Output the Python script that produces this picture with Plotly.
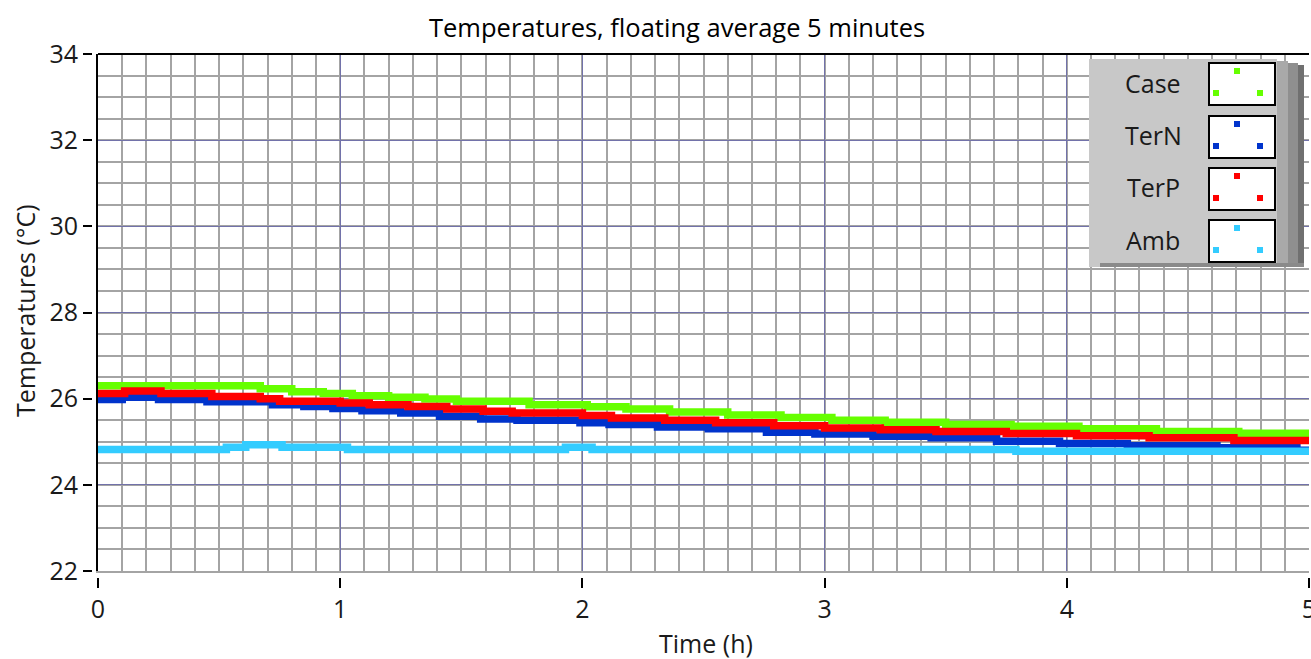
import plotly.graph_objects as go

# ---------------- data ----------------
case_t = [0, 0.67, 0.80, 0.93, 1.05, 1.20, 1.35, 1.48, 1.78, 2.02, 2.18, 2.36, 2.60, 2.82,
          3.03, 3.25, 3.50, 3.77, 4.05, 4.37, 4.71, 5.0]
case_v = [26.30, 26.23, 26.16, 26.12, 26.07, 26.03, 25.99, 25.94, 25.86, 25.81, 25.76, 25.69,
          25.62, 25.56, 25.50, 25.45, 25.40, 25.36, 25.30, 25.24, 25.20, 25.20]

terp_t = [0, 0.11, 0.26, 0.47, 0.67, 0.75, 1.00, 1.12, 1.28, 1.44, 1.59, 1.71, 2.00, 2.12,
          2.34, 2.55, 2.79, 3.00, 3.23, 3.46, 3.75, 4.04, 4.34, 4.69, 5.0]
terp_v = [26.12, 26.18, 26.12, 26.05, 26.00, 25.94, 25.90, 25.86, 25.82, 25.76, 25.71, 25.67,
          25.61, 25.55, 25.50, 25.44, 25.37, 25.32, 25.28, 25.24, 25.19, 25.14, 25.09, 25.03, 25.03]

tern_t = [0, 0.10, 0.25, 0.45, 0.72, 0.85, 0.97, 1.09, 1.25, 1.41, 1.58, 1.73, 1.99, 2.11,
          2.31, 2.52, 2.76, 2.96, 3.20, 3.44, 3.71, 3.97, 4.25, 4.62, 4.95, 5.0]
tern_v = [25.98, 26.03, 25.98, 25.93, 25.86, 25.82, 25.77, 25.72, 25.67, 25.59, 25.53, 25.50,
          25.44, 25.40, 25.34, 25.30, 25.22, 25.18, 25.13, 25.09, 25.01, 24.96, 24.91, 24.86,
          24.80, 24.80]

amb_t = [0, 0.53, 0.61, 0.76, 1.03, 1.93, 2.04, 3.79, 5.0]
amb_v = [24.82, 24.87, 24.93, 24.87, 24.82, 24.87, 24.82, 24.78, 24.78]

series_names = ["Case", "TerN", "TerP", "Amb"]
series_colors = ["#66ff00", "#0033cc", "#ff0000", "#33ccff"]

x_ticks = [0, 1, 2, 3, 4, 5]
y_ticks = [22, 24, 26, 28, 30, 32, 34]

# ---------------- geometry ----------------
W, H = 1311, 659
ML, MR, MT, MB = 92, 2, 54, 82
PW, PH = W - ML - MR, H - MT - MB
GAP = 6
X0_PX, X1_PX = ML + GAP, W - MR          # x domain in pixels
Y0_PX, Y1_PX = H - MB - GAP, MT          # y domain in pixels (bottom, top)

def dx(p):
    return (p - X0_PX) / (X1_PX - X0_PX)

def dy(p):
    return (Y0_PX - p) / (Y0_PX - Y1_PX)

FONT = "Open Sans"
TXT = "#1a1a1a"
MINOR = "#a4a4a4"
MAJOR = "#7272aa"

fig = go.Figure()
data = [(case_t, case_v), (tern_t, tern_v), (terp_t, terp_v), (amb_t, amb_v)]
for i, ((t, v), name, col) in enumerate(zip(data, series_names, series_colors)):
    last = i == len(data) - 1
    fig.add_trace(go.Scatter(
        x=t, y=v, name=name, mode="lines", line=dict(color=col, width=7.5, shape="hv"),
        xaxis="x2" if last else "x", yaxis="y2" if last else "y",
        showlegend=False, hoverinfo="skip"))

fig.update_layout(
    width=W, height=H,
    margin=dict(l=ML, r=MR, t=MT, b=MB, autoexpand=False),
    paper_bgcolor="white", plot_bgcolor="white",
    font=dict(family=FONT, size=25, color=TXT),
    showlegend=False,
    xaxis=dict(domain=[GAP / PW, 1], range=[0, 5], anchor="y", automargin=False,
               showgrid=True, gridcolor=MAJOR, gridwidth=1,
               minor=dict(dtick=0.1, showgrid=True, gridcolor=MINOR, gridwidth=2, ticks=""),
               tickvals=x_ticks, ticks="", showticklabels=False, zeroline=False,
               showline=True, linecolor=MINOR, linewidth=2, fixedrange=True),
    yaxis=dict(domain=[GAP / PH, 1], range=[22, 34], anchor="x", automargin=False,
               showgrid=True, gridcolor=MAJOR, gridwidth=1,
               minor=dict(dtick=0.5, showgrid=True, gridcolor=MINOR, gridwidth=2, ticks=""),
               tickvals=y_ticks, ticks="", showticklabels=False, zeroline=False,
               showline=True, linecolor="black", linewidth=2, fixedrange=True),
    xaxis2=dict(overlaying="x", range=[0, 5], anchor="free", position=0, automargin=False,
                tickvals=x_ticks, ticks="outside", ticklen=10, tickwidth=2, tickcolor="black",
                showgrid=False, zeroline=False, showline=False, ticklabeloverflow="allow",
                tickfont=dict(family=FONT, size=25, color=TXT), fixedrange=True),
    yaxis2=dict(overlaying="y", range=[22, 34], anchor="free", position=0, automargin=False,
                tickvals=y_ticks, ticks="outside", ticklen=9, tickwidth=2, tickcolor="black",
                showgrid=False, zeroline=False, showline=False,
                tickfont=dict(family=FONT, size=25, color=TXT), fixedrange=True),
)

shapes = []
# top border
shapes.append(dict(type="line", xref="x domain", yref="y domain", x0=0, x1=1, y0=1, y1=1,
                   line=dict(color="black", width=2), layer="above"))

# custom legend panel
def rect(x0, y0, x1, y1, fill, line=None, lw=0):
    return dict(type="rect", xref="x domain", yref="y domain",
                x0=dx(x0), x1=dx(x1), y0=dy(y1), y1=dy(y0),
                fillcolor=fill, line=dict(color=line or fill, width=lw), layer="above")

shapes.append(rect(1089, 59, 1277, 267, "#c8c8c8"))
shapes.append(rect(1277, 61, 1288, 267, "#a9a9a9"))
shapes.append(rect(1288, 63, 1298, 267, "#8f8f8f"))
shapes.append(rect(1298, 65, 1304, 267, "#707070"))
shapes.append(rect(1100, 263, 1304, 267, "#8a8a8a"))

box_tops = [63, 116, 168, 220]
label_y = [83, 135, 187, 240]
for top, name, col in zip(box_tops, series_names, series_colors):
    shapes.append(rect(1209, top, 1275, top + 42, "white", "black", 2))
    for mx, my in [(1237, top + 8), (1216, top + 30), (1260, top + 30)]:
        shapes.append(rect(mx - 3, my - 3, mx + 3, my + 3, col))

annotations = []
for ly, name in zip(label_y, series_names):
    annotations.append(dict(text=name, xref="x domain", yref="y domain", x=dx(1153), y=dy(ly),
                            xanchor="center", yanchor="middle", showarrow=False,
                            font=dict(family=FONT, size=25, color=TXT)))

# title and axis titles
annotations.append(dict(text="Temperatures, floating average 5 minutes", xref="x domain",
                        yref="y domain", x=dx(677), y=dy(27), xanchor="center", yanchor="middle",
                        showarrow=False, font=dict(family=FONT, size=25.5, color="black")))
annotations.append(dict(text="Time (h)", xref="x domain", yref="y domain", x=dx(706), y=dy(643),
                        xanchor="center", yanchor="middle", showarrow=False,
                        font=dict(family=FONT, size=25, color=TXT)))
annotations.append(dict(text="Temperatures (°C)", xref="x domain", yref="y domain", x=dx(25),
                        y=dy(311), xanchor="center", yanchor="middle", textangle=-90,
                        showarrow=False, font=dict(family=FONT, size=25, color=TXT)))

fig.update_layout(shapes=shapes, annotations=annotations)
fig.write_html("out.html")
